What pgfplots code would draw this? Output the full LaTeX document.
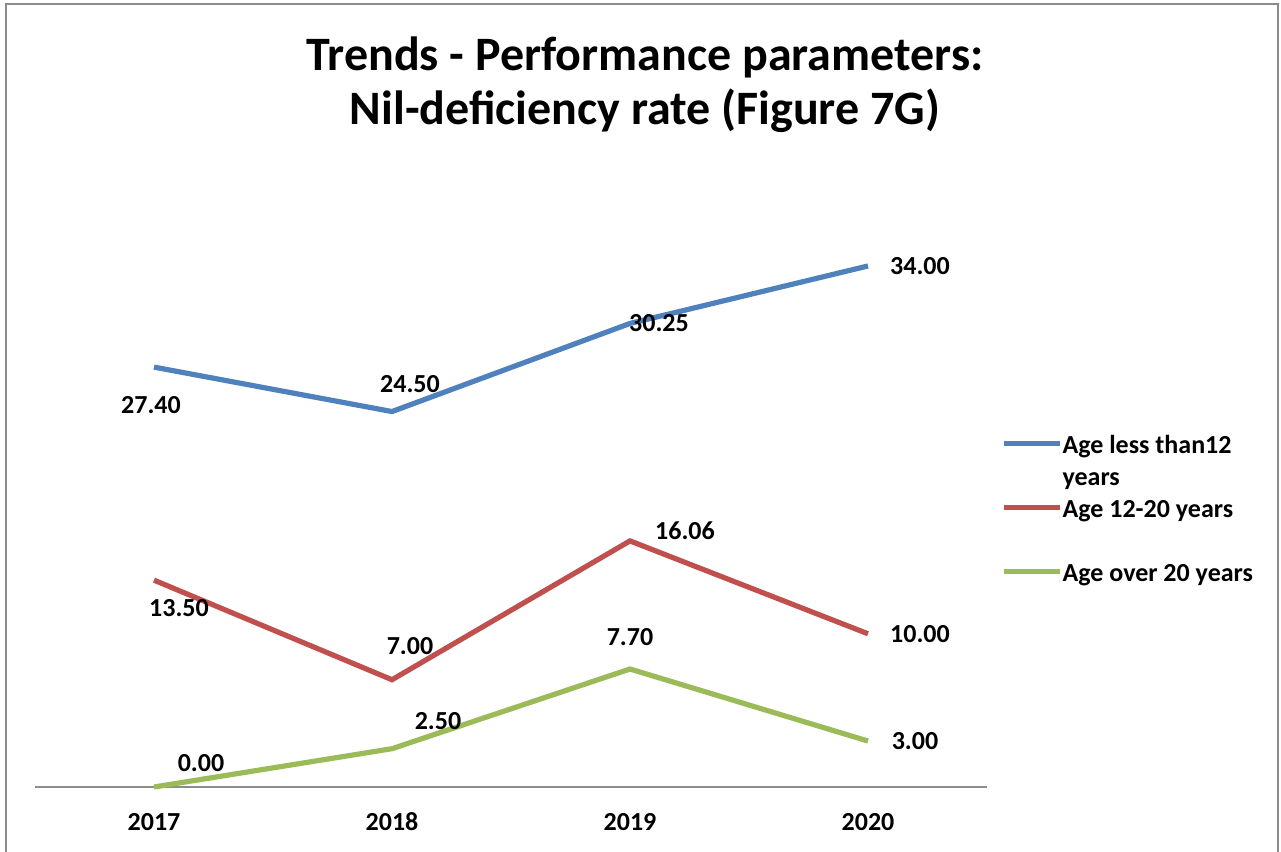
\documentclass[border=0pt]{standalone}
\usepackage{pgfplots}
\pgfplotsset{compat=1.18}
\usepackage{fontspec}
\setmainfont{Carlito}
\definecolor{cblue}{HTML}{4F81BD}
\definecolor{cred}{HTML}{C0504D}
\definecolor{cgreen}{HTML}{9BBB59}
\definecolor{cgray}{HTML}{8C8C8C}
\begin{document}
\begin{tikzpicture}
\useasboundingbox (0pt,0pt) rectangle (640.5pt,-426pt);
\draw[cgray,line width=1pt] (2.75pt,-2pt) rectangle (639pt,-440pt);
\begin{axis}[
  at={(17.5pt,-393.5pt)}, anchor=south west,
  scale only axis, width=476pt, height=306.5pt,
  xmin=-0.5, xmax=3.5, ymin=0, ymax=40,
  axis x line=bottom, axis y line=none,
  x axis line style={-, cgray, line width=1pt},
  xtick={0,1,2,3}, xticklabels={2017,2018,2019,2020},
  major tick length=0pt,
  xticklabel style={anchor=center, yshift=-17.5pt},
  tick label style={font=\bfseries\fontsize{13}{16}\selectfont},
  clip=false,
  /pgf/number format/assume math mode=true,
  nodes near coords={\pgfmathprintnumber[fixed,fixed zerofill,precision=2]{\pgfplotspointmeta}},
  nodes near coords align={center},
  visualization depends on={value \thisrow{dx}\as\dx},
  visualization depends on={value \thisrow{dy}\as\dy},
  every node near coord/.append style={font=\bfseries\fontsize{13}{16}\selectfont, text=black, anchor=center, xshift=\dx pt, yshift=\dy pt},
  title={Trends - Performance parameters:\\Nil-deficiency rate (Figure 7G)},
  title style={at={(axis description cs:0.6408,1.1255)}, anchor=center, align=center, font=\bfseries\fontsize{24}{27}\selectfont},
  legend cell align=left,
  legend image code/.code={\draw[#1] (0pt,11pt) -- (28pt,11pt);},
  legend style={at={(axis description cs:1.0147,0.5773)}, anchor=north west, draw=none, fill=none,
    font=\bfseries\fontsize{13}{16}\selectfont, inner sep=0pt, column sep=0pt, row sep=0pt,
    nodes={inner sep=0pt, text height=10pt, text depth=22pt}},
]
\addplot[cblue, line width=2.6pt] table[x=x,y=y] {
x y dx dy
0 27.40 -1.5 -19
1 24.50 9 13.5
2 30.25 14.5 0
3 34.00 26 0
};
\addlegendentry{\begin{tabular}[t]{@{}l@{}}Age less than12\\years\end{tabular}}
\addplot[cred, line width=2.6pt] table[x=x,y=y] {
x y dx dy
0 13.50 12.5 -14
1 7.00 9 17
2 16.06 27.5 5
3 10.00 26 0
};
\addlegendentry{Age 12-20 years}
\addplot[cgreen, line width=2.6pt] table[x=x,y=y] {
x y dx dy
0 0.00 23.5 12
1 2.50 23 14
2 7.70 0 16
3 3.00 23.5 0
};
\addlegendentry{Age over 20 years}
\end{axis}
\end{tikzpicture}
\end{document}
